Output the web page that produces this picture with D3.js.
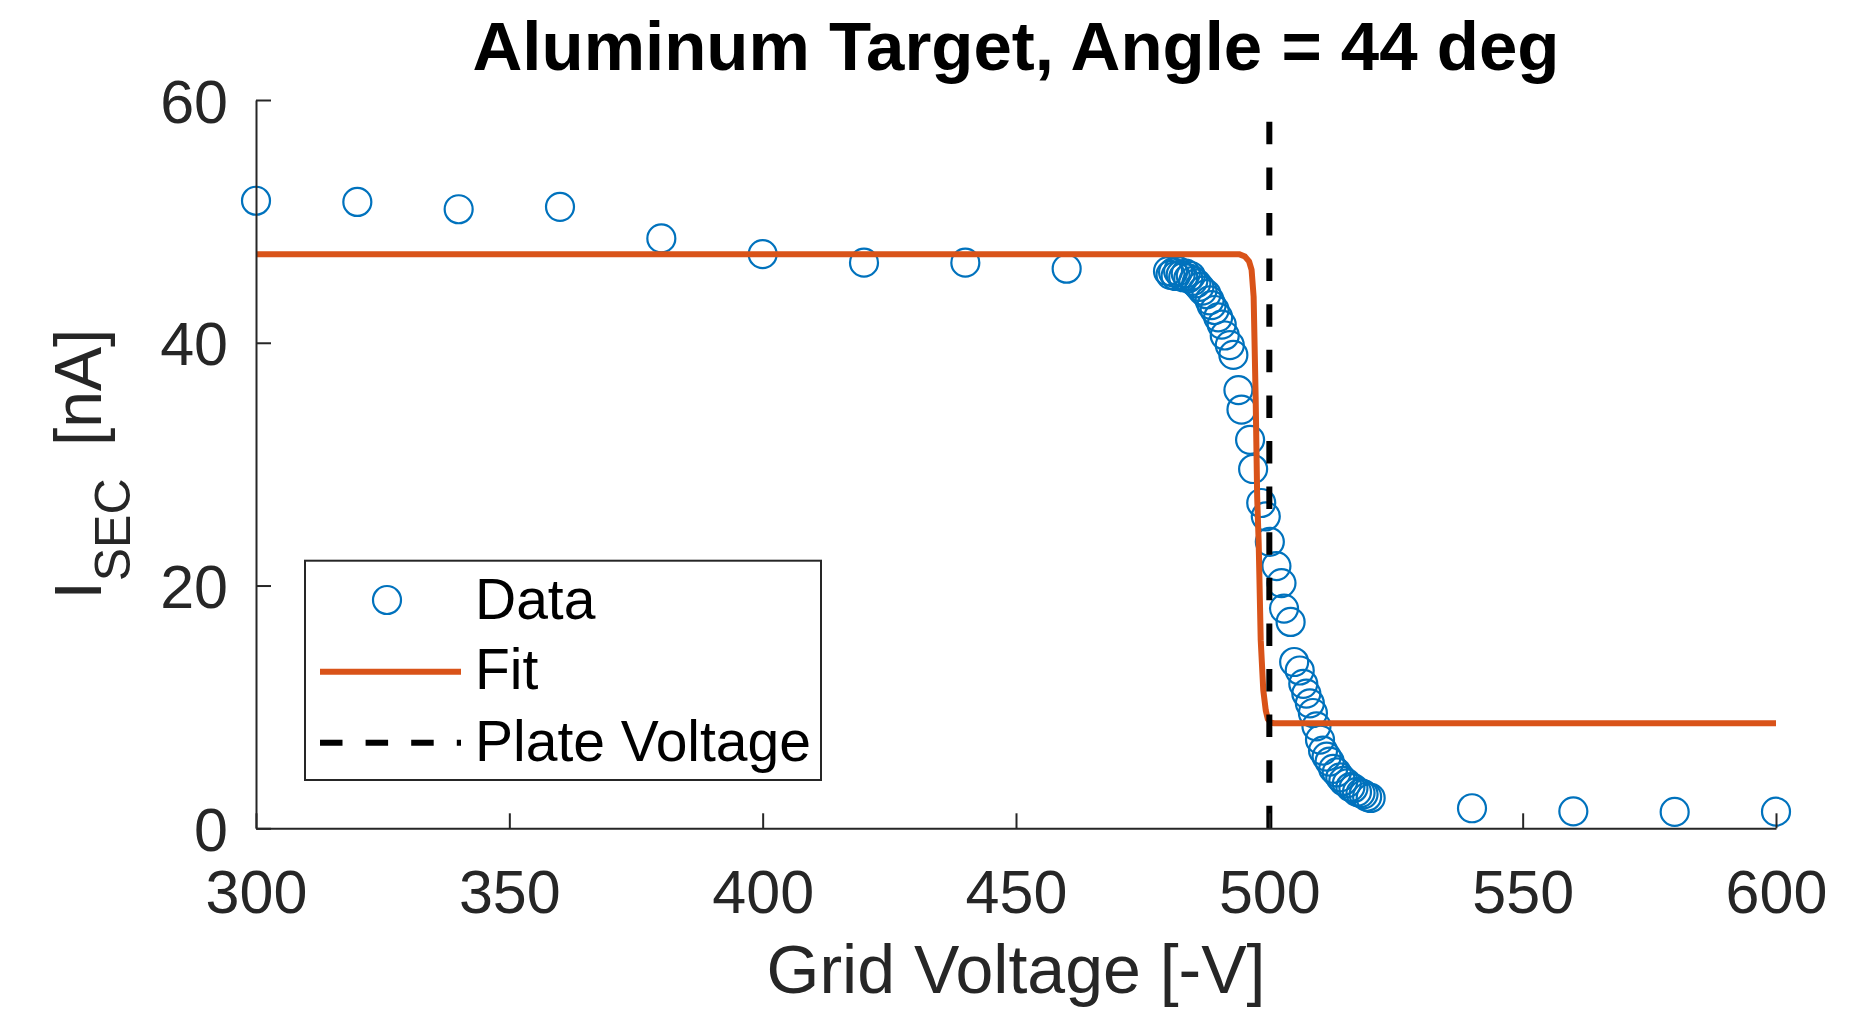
<!DOCTYPE html>
<html>
<head>
<meta charset="utf-8">
<script src="https://cdn.jsdelivr.net/npm/d3@7"></script>
<style>
  html, body { margin: 0; padding: 0; background: #ffffff; }
  svg { display: block; }
</style>
</head>
<body>
<script>
// Measured secondary electron current versus grid voltage
const dataVoltage = [
  300, 320, 340, 360, 380, 400, 420, 440, 460,
  480.0, 480.5, 481.0, 481.5, 482.0, 482.5, 483.0, 483.5, 484.0, 484.5,
  485.0, 485.6, 486.2, 486.8, 487.6, 488.2, 488.6, 489.2, 489.9, 490.6,
  491.2, 492.2, 492.9, 493.9, 494.5, 496.2, 496.8, 498.4, 499.3, 500.1,
  501.4, 502.4, 502.9, 504.2, 504.9, 506.0, 506.7, 507.3, 508.0, 508.6,
  509.3, 510.0, 510.6, 511.3, 511.9, 512.6, 513.3, 514.0, 514.6, 515.3,
  516.0, 516.6, 517.3, 518.0, 518.6, 519.3, 520.0,
  540, 560, 580, 600
];
const dataCurrent = [
  51.7, 51.6, 51.0, 51.2, 48.6, 47.3, 46.6, 46.6, 46.1,
  45.9, 45.6, 45.8, 45.5, 45.9, 45.6, 45.4, 45.7, 45.3, 45.5,
  45.1, 44.9, 44.6, 44.3, 44.0, 43.5, 43.1, 42.7, 42.1, 41.5,
  40.6, 39.8, 39.0, 36.1, 34.5, 32.0, 29.6, 26.8, 25.7, 23.6,
  21.6, 20.2, 18.1, 17.0, 13.7, 13.0, 11.9, 11.1, 10.3, 9.5,
  8.4, 7.3, 6.4, 5.9, 5.5, 4.9, 4.6, 4.2, 3.9, 3.7,
  3.4, 3.3, 3.0, 2.9, 2.8, 2.6, 2.5,
  1.65, 1.4, 1.35, 1.37
];

// Fitted step curve
const fitVoltage = [300, 494.0, 495.2, 496.0, 496.5, 496.9, 497.3, 497.6, 497.9, 498.3, 498.8, 499.3, 499.7, 500.3, 501.0, 600];
const fitCurrent = [47.3, 47.3, 47.1, 46.7, 46.0, 43.8, 35.5, 27.3, 23.5, 15.5, 11.4, 9.7, 9.0, 8.7, 8.65, 8.65];

// Plate voltage marker
const plateVoltage = 500;
const plateRange = [0, 60];

// Axis ticks and labels
const xTicks = [300, 350, 400, 450, 500, 550, 600];
const yTicks = [0, 20, 40, 60];
const titleText = "Aluminum Target, Angle = 44 deg";
const xLabelText = "Grid Voltage [-V]";
const legendLabels = ["Data", "Fit", "Plate Voltage"];

const W = 1876, H = 1010;
const FONT = "'Liberation Sans', Arial, Helvetica, sans-serif";
const AXIS_COLOR = "#262626";
const BLUE = "#0072BD";
const ORANGE = "#D95319";

const svg = d3.select("body").append("svg")
  .attr("width", W).attr("height", H)
  .attr("viewBox", `0 0 ${W} ${H}`);

svg.append("rect").attr("width", W).attr("height", H).attr("fill", "#ffffff");

const x = d3.scaleLinear().domain([300, 600]).range([256, 1776]);
const y = d3.scaleLinear().domain([0, 60]).range([828.3, 100]);

const points = dataVoltage.map((v, i) => ({ v, c: dataCurrent[i] }));
const fitPts = fitVoltage.map((v, i) => ({ v, c: fitCurrent[i] }));

// Data markers
svg.append("g").selectAll("circle")
  .data(points).join("circle")
  .attr("cx", d => x(d.v))
  .attr("cy", d => y(d.c))
  .attr("r", 14)
  .attr("fill", "none")
  .attr("stroke", BLUE)
  .attr("stroke-width", 2.2);

// Fit line
const line = d3.line().x(d => x(d.v)).y(d => y(d.c));
svg.append("path")
  .datum(fitPts)
  .attr("d", line)
  .attr("fill", "none")
  .attr("stroke", ORANGE)
  .attr("stroke-width", 6)
  .attr("stroke-linejoin", "round");

// Plate voltage dashed line (drawn bottom to top)
svg.append("path")
  .datum(plateRange.map(c => ({ v: plateVoltage, c })))
  .attr("d", line)
  .attr("fill", "none")
  .attr("stroke", "#000000")
  .attr("stroke-width", 6)
  .attr("stroke-dasharray", "22.5 23.1");

// Axes
function styleAxis(g) {
  g.select(".domain").attr("stroke", AXIS_COLOR).attr("stroke-width", 2);
  g.selectAll(".tick line").attr("stroke", AXIS_COLOR).attr("stroke-width", 2);
  g.selectAll(".tick text")
    .attr("fill", AXIS_COLOR)
    .style("font-family", FONT)
    .style("font-size", "61px");
}

const xAxis = svg.append("g")
  .attr("transform", `translate(0,${y(0)})`)
  .call(d3.axisBottom(x).tickValues(xTicks).tickSizeInner(-15).tickSizeOuter(0).tickFormat(d3.format("d")));
styleAxis(xAxis);
xAxis.selectAll(".tick text").attr("y", 85).attr("dy", 0);

const yAxis = svg.append("g")
  .attr("transform", `translate(${x(300)},0)`)
  .call(d3.axisLeft(y).tickValues(yTicks).tickSizeInner(-15).tickSizeOuter(0).tickFormat(d3.format("d")));
styleAxis(yAxis);
yAxis.selectAll(".tick text").attr("x", -28).attr("dy", 0).attr("y", 22).attr("text-anchor", "end");

// Title
svg.append("text")
  .attr("x", (x(300) + x(600)) / 2)
  .attr("y", 70)
  .attr("text-anchor", "middle")
  .style("font-family", FONT)
  .style("font-size", "69px")
  .style("font-weight", "bold")
  .attr("fill", "#000000")
  .text(titleText);

// X label
svg.append("text")
  .attr("x", (x(300) + x(600)) / 2)
  .attr("y", 993)
  .attr("text-anchor", "middle")
  .style("font-family", FONT)
  .style("font-size", "68px")
  .attr("fill", AXIS_COLOR)
  .text(xLabelText);

// Y label with subscript
const yl = svg.append("text")
  .attr("transform", `translate(101,${(y(0) + y(60)) / 2}) rotate(-90)`)
  .attr("text-anchor", "middle")
  .style("font-family", FONT)
  .style("font-size", "66px")
  .attr("fill", AXIS_COLOR);
yl.append("tspan").text("I");
yl.append("tspan").attr("dy", 29).style("font-size", "50px").text("SEC");
yl.append("tspan").attr("dy", -29).attr("dx", 14).text(" [nA]");

// Legend
const lg = svg.append("g");
lg.append("rect")
  .attr("x", 305).attr("y", 560.7)
  .attr("width", 516).attr("height", 219.3)
  .attr("fill", "#ffffff")
  .attr("stroke", AXIS_COLOR)
  .attr("stroke-width", 2);

lg.append("circle")
  .attr("cx", 387).attr("cy", 600).attr("r", 14)
  .attr("fill", "none").attr("stroke", BLUE).attr("stroke-width", 2.2);
lg.append("line")
  .attr("x1", 320).attr("x2", 461).attr("y1", 671.7).attr("y2", 671.7)
  .attr("stroke", ORANGE).attr("stroke-width", 6);
lg.append("line")
  .attr("x1", 320).attr("x2", 461).attr("y1", 742.7).attr("y2", 742.7)
  .attr("stroke", "#000000").attr("stroke-width", 6)
  .attr("stroke-dasharray", "22.5 23.1");

const legendBaselines = [619, 689, 761];
lg.selectAll("text.leg")
  .data(legendLabels).join("text")
  .attr("class", "leg")
  .attr("x", 475)
  .attr("y", (d, i) => legendBaselines[i])
  .style("font-family", FONT)
  .style("font-size", "57px")
  .attr("fill", "#000000")
  .text(d => d);
</script>
</body>
</html>
